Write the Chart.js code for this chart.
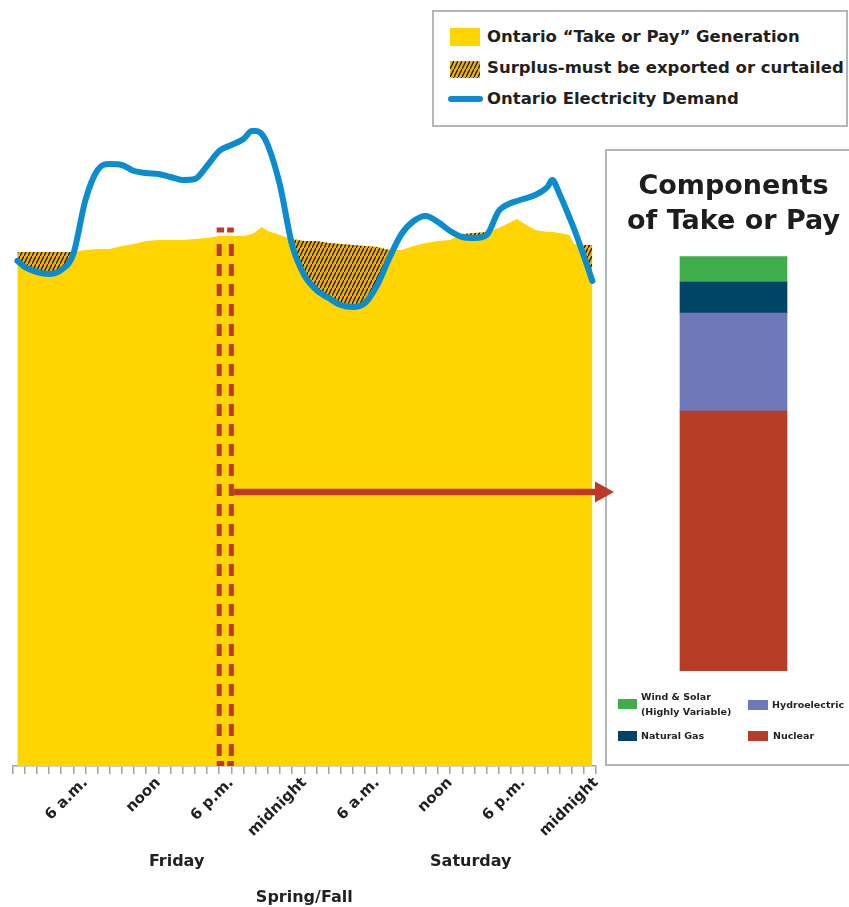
<!DOCTYPE html>
<html>
<head>
<meta charset="utf-8">
<script src="https://cdn.jsdelivr.net/npm/chart.js@4.4.1/dist/chart.umd.min.js"></script>
<style>
  html, body { margin: 0; padding: 0; width: 849px; height: 907px; overflow: hidden; background: #fff; }
  body { position: relative; font-family: "DejaVu Sans", sans-serif; color: #231f20; }
  #main { position: absolute; left: 0; top: 0; z-index: 3; pointer-events: none; }
  #legend { position: absolute; left: 432px; top: 10px; width: 412px; height: 113px;
            border: 2px solid #b3b8b5; background: #fff; z-index: 2; }
  #legend .sw { position: absolute; }
  #legend .txt { position: absolute; left: 53px; font-weight: bold; font-size: 16.5px; line-height: 20px; white-space: nowrap; }
  #panel { position: absolute; left: 605px; top: 149px; width: 270px; height: 613px;
           border: 2px solid #b3b8b5; background: #fff; z-index: 1; }
  #parts { position: absolute; left: 0; top: 0; }
  #panel .sw { position: absolute; width: 19px; height: 10px; }
  #panel .txt { position: absolute; font-weight: bold; font-size: 9.5px; line-height: 14.5px; white-space: nowrap; }
</style>
</head>
<body>
<div id="legend">
  <div class="sw" style="left:16px;top:16px;width:30px;height:18px;background:#ffd400"></div>
  <div class="txt" style="top:15px">Ontario “Take or Pay” Generation</div>
  <canvas class="sw" id="hatchSwatch" width="30" height="17" style="left:16px;top:49px"></canvas>
  <div class="txt" style="top:46px">Surplus-must be exported or curtailed</div>
  <div class="sw" style="left:14px;top:84px;width:35px;height:6px;border-radius:3px;background:#0b8ccf"></div>
  <div class="txt" style="top:77px">Ontario Electricity Demand</div>
</div>

<div id="panel">
  <canvas id="parts" width="253" height="613"></canvas>
  <div class="sw" style="left:11px;top:548px;background:#3fae4a"></div>
  <div class="txt" style="left:34px;top:539px">Wind &amp; Solar<br>(Highly Variable)</div>
  <div class="sw" style="left:141px;top:549px;width:20px;background:#6f78b9"></div>
  <div class="txt" style="left:165px;top:547px">Hydroelectric</div>
  <div class="sw" style="left:11px;top:580px;background:#004466"></div>
  <div class="txt" style="left:34px;top:578px">Natural Gas</div>
  <div class="sw" style="left:141px;top:580px;width:20px;background:#b83d27"></div>
  <div class="txt" style="left:166px;top:578px">Nuclear</div>
</div>

<canvas id="main" width="849" height="907"></canvas>

<script>
// Hours after Thursday midnight (0 = start of Friday, 48 = end of Saturday)
const hours = [0.4, 1, 2, 3, 4, 5, 6, 7, 8, 9, 10, 11, 12, 13, 14, 15, 16, 17, 18, 19,
               19.7, 20, 20.5, 21, 22, 23, 24, 25, 26, 27, 28, 29, 30, 31, 32, 33, 34, 35,
               36, 37, 38, 39, 40, 41, 41.5, 42, 43, 44, 44.4, 45, 45.8, 46.2, 47, 47.7];

// Ontario electricity demand, MW
const demandMW = [12625, 12475, 12350, 12300, 12400, 12800, 14150, 14900, 15050, 15025,
                  14875, 14825, 14800, 14725, 14650, 14675, 15000, 15375, 15525, 15675,
                  15875, 15875, 15800, 15525, 14525, 13025, 12275, 11900, 11700, 11525,
                  11475, 11575, 12025, 12700, 13300, 13625, 13750, 13600, 13375, 13225,
                  13200, 13275, 13875, 14075, 14125, 14175, 14275, 14475, 14650, 14300,
                  13725, 13425, 12750, 12125];

// "Take or pay" generation (nuclear, hydro, gas, wind & solar), MW
const takeOrPayMW = [12850, 12850, 12850, 12850, 12850, 12850, 12900, 12925, 12925, 13000,
                     13050, 13125, 13150, 13150, 13150, 13175, 13200, 13250, 13250, 13250,
                     13300, 13350, 13475, 13375, 13275, 13175, 13125, 13125, 13075, 13050,
                     13025, 13000, 12975, 12900, 12900, 13000, 13075, 13125, 13150, 13300,
                     13325, 13350, 13450, 13600, 13675, 13575, 13400, 13350, 13350, 13325,
                     13275, 13050, 13025, 13025];

// Hour-axis labels
const tickHours  = [6, 12, 18, 24, 30, 36, 42, 48];
const tickLabels = ['6 a.m.', 'noon', '6 p.m.', 'midnight', '6 a.m.', 'noon', '6 p.m.', 'midnight'];
const dayNames   = ['Friday', 'Saturday'];
const dayHours   = [13.5, 37.7];

// Friday 6 p.m. breakdown, MW
const componentNames  = ['Nuclear', 'Hydroelectric', 'Natural Gas', 'Wind & Solar (Highly Variable)'];
const componentMW     = [8300, 3130, 990, 830];
const componentColors = ['#b83d27', '#6f78b9', '#004466', '#3fae4a'];

// Highlighted hour and the arrow pointing to its breakdown
const highlightHours = [17, 18];
const highlightTopMW = 13400;
const arrowLevelMW   = 6850;

const YELLOW = '#ffd400';
const BLUE = '#0b8ccf';
const RED = '#bf3a26';
const INK = '#231f20';
const AXIS_GREY = '#9da3a1';
const FONT = "'DejaVu Sans', sans-serif";

// Diagonal hatch for the surplus band
function makeHatch() {
  const tile = document.createElement('canvas');
  tile.width = 4; tile.height = 8;
  const t = tile.getContext('2d');
  t.fillStyle = '#eeb200';
  t.fillRect(0, 0, 4, 8);
  t.strokeStyle = '#1e1600';
  t.lineWidth = 1.4;
  t.beginPath();
  t.moveTo(-1, 10); t.lineTo(5, -2);
  t.stroke();
  return tile;
}
const hatchTile = makeHatch();
const mainCtx = document.getElementById('main').getContext('2d');
const hatch = mainCtx.createPattern(hatchTile, 'repeat');

const sw = document.getElementById('hatchSwatch').getContext('2d');
sw.fillStyle = sw.createPattern(hatchTile, 'repeat');
sw.fillRect(0, 0, 30, 17);

const pts = arr => hours.map((h, i) => ({ x: h, y: arr[i] }));
const panelEl = document.getElementById('panel');

const highlightPlugin = {
  id: 'highlight',
  afterDatasetsDraw(chart) {
    const { ctx, scales: { x, y } } = chart;
    const x1 = x.getPixelForValue(highlightHours[0]);
    const x2 = x.getPixelForValue(highlightHours[1]);
    const yTop = y.getPixelForValue(highlightTopMW);
    const yBot = y.getPixelForValue(0);
    ctx.save();
    ctx.strokeStyle = RED;
    ctx.fillStyle = RED;
    ctx.lineWidth = 5;
    ctx.lineCap = 'butt';
    // top and bottom edges of the dashed frame
    ctx.setLineDash([7.5, 3]);
    [yTop, yBot - 2.5].forEach(yy => {
      ctx.beginPath(); ctx.moveTo(x1 - 2.5, yy); ctx.lineTo(x2 + 2.5, yy); ctx.stroke();
    });
    // sides
    ctx.setLineDash([12, 8]);
    [x1, x2].forEach(xx => {
      ctx.beginPath(); ctx.moveTo(xx, yTop + 14); ctx.lineTo(xx, yBot - 7); ctx.stroke();
    });
    // arrow to the breakdown panel
    const ay = y.getPixelForValue(arrowLevelMW);
    const tip = panelEl.offsetLeft + 9;
    ctx.setLineDash([]);
    ctx.lineWidth = 6.5;
    ctx.beginPath(); ctx.moveTo(x2 + 2.5, ay); ctx.lineTo(tip - 17, ay); ctx.stroke();
    ctx.beginPath();
    ctx.moveTo(tip, ay); ctx.lineTo(tip - 19, ay - 10.5); ctx.lineTo(tip - 19, ay + 10.5);
    ctx.closePath(); ctx.fill();
    ctx.restore();
  }
};

new Chart(mainCtx, {
  type: 'line',
  data: {
    datasets: [
      { label: 'Ontario Electricity Demand', data: pts(demandMW), xAxisID: 'x', yAxisID: 'y',
        borderColor: BLUE, borderWidth: 6, pointRadius: 0, cubicInterpolationMode: 'monotone',
        borderCapStyle: 'round', borderJoinStyle: 'round', fill: false },
      { label: 'Surplus-must be exported or curtailed', data: pts(takeOrPayMW), xAxisID: 'x', yAxisID: 'y',
        borderWidth: 0, borderColor: 'rgba(0,0,0,0)', pointRadius: 0, tension: 0,
        fill: { target: 0, above: hatch, below: 'rgba(0,0,0,0)' } },
      { label: 'Ontario “Take or Pay” Generation', data: pts(takeOrPayMW), xAxisID: 'x', yAxisID: 'y',
        borderWidth: 0, borderColor: 'rgba(0,0,0,0)', pointRadius: 0, tension: 0,
        backgroundColor: YELLOW, fill: 'origin' }
    ]
  },
  options: {
    responsive: false,
    animation: false,
    events: [],
    layout: { padding: { left: 12.5, right: 253, top: 106, bottom: 0 } },
    plugins: { legend: { display: false }, tooltip: { enabled: false } },
    scales: {
      x: {
        type: 'linear', min: 0, max: 48, position: 'bottom', weight: 0,
        afterCalculateLabelRotation: s => { s.labelRotation = 45; },
        afterFit: s => { s.height = 80; },
        border: { display: true, color: AXIS_GREY, width: 1.5 },
        grid: { display: true, drawOnChartArea: false, drawTicks: true, tickLength: 8,
                color: AXIS_GREY, lineWidth: 1.5 },
        ticks: {
          stepSize: 1, maxTicksLimit: 100, autoSkip: false, minRotation: 45, maxRotation: 45,
          padding: 0, color: INK, font: { family: FONT, weight: 'bold', size: 15 },
          callback: v => { const i = tickHours.indexOf(v); return i < 0 ? '' : tickLabels[i]; }
        }
      },
      day: {
        type: 'linear', axis: 'x', min: 0, max: 48, position: 'bottom', weight: 1,
        afterFit: s => { s.height = 61; },
        afterBuildTicks: s => { s.ticks = dayHours.map(v => ({ value: v })); },
        grid: { display: false, drawTicks: false },
        border: { display: false },
        ticks: {
          autoSkip: false, maxRotation: 0, minRotation: 0, padding: 6, color: INK,
          font: { family: FONT, weight: 'bold', size: 16 },
          callback: (v, i) => dayNames[i]
        },
        title: { display: true, text: 'Spring/Fall', color: INK,
                 font: { family: FONT, weight: 'bold', size: 16 }, padding: { top: 0, bottom: 0 } }
      },
      y: { display: false, min: 0, max: 16500 }
    }
  },
  plugins: [highlightPlugin]
});

const totalMW = componentMW.reduce((a, b) => a + b, 0);
new Chart(document.getElementById('parts'), {
  type: 'bar',
  data: {
    labels: ['Friday 6 p.m.'],
    datasets: componentNames.map((name, i) => ({
      label: name, data: [componentMW[i]], backgroundColor: componentColors[i],
      borderWidth: 0, barThickness: 107
    }))
  },
  options: {
    responsive: false,
    animation: false,
    events: [],
    layout: { padding: { top: 0, bottom: 93, left: 0, right: 0 } },
    plugins: {
      legend: { display: false },
      tooltip: { enabled: false },
      title: { display: true, text: ['Components', 'of Take or Pay'], color: '#1d1d1b',
               font: { family: FONT, weight: 'bold', size: 27, lineHeight: 1.3 },
               padding: { top: 18, bottom: 17 } }
    },
    scales: {
      x: { display: false, stacked: true },
      y: { display: false, stacked: true, min: 0, max: totalMW }
    }
  }
});
</script>
</body>
</html>
